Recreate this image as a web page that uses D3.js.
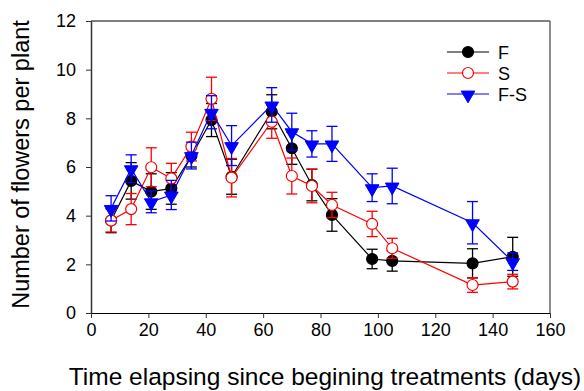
<!DOCTYPE html>
<html>
<head>
<meta charset="utf-8">
<script src="https://cdn.jsdelivr.net/npm/d3@7"></script>
<style>
  body { margin: 0; background: #fff; }
  svg { display: block; font-family: "Liberation Sans", Arial, sans-serif; }
</style>
</head>
<body>
<div id="chart"></div>
<script>
const W = 584, H = 391;

// days since beginning of treatments
const days = [7, 14, 21, 28, 35, 42, 49, 63, 70, 77, 84, 98, 105, 133, 147];

// flowers per plant (mean) and standard error
const fMean  = [3.8, 5.43, 4.99, 5.12, 6.45, 7.93, 5.6, 8.27, 6.77, 5.26, 4.03, 2.22, 2.14, 2.04, 2.31];
const fErr   = [0.5, 0.75, 0.73, 0.65, 0.45, 0.68, 0.72, 0.7, 0.66, 0.65, 0.67, 0.4, 0.42, 0.6, 0.8];
const sMean  = [3.8, 4.27, 5.99, 5.53, 6.84, 8.8, 5.56, 7.86, 5.63, 5.22, 4.44, 3.66, 2.66, 1.15, 1.29];
const sErr   = [0.47, 0.64, 0.8, 0.62, 0.59, 0.89, 0.79, 0.68, 0.74, 0.69, 0.52, 0.52, 0.41, 0.3, 0.3];
const fsMean = [4.3, 5.93, 4.57, 4.85, 6.47, 8.25, 6.88, 8.55, 7.45, 6.95, 6.95, 5.15, 5.22, 3.71, 2.11];
const fsErr  = [0.52, 0.57, 0.45, 0.6, 0.55, 0.68, 0.82, 0.71, 0.76, 0.54, 0.72, 0.57, 0.73, 0.87, 0.36];

const xTicks = [0, 20, 40, 60, 80, 100, 120, 140, 160];
const yTicks = [0, 2, 4, 6, 8, 10, 12];

const series = [
  { name: "F",   mean: fMean,  err: fErr,  color: "#000000", marker: "circle", fill: "#000000" },
  { name: "S",   mean: sMean,  err: sErr,  color: "#ff0000", marker: "circle", fill: "#ffffff" },
  { name: "F-S", mean: fsMean, err: fsErr, color: "#0000ff", marker: "triangle", fill: "#0000ff" }
];

const svg = d3.select("#chart").append("svg")
  .attr("width", W)
  .attr("height", H);

const x = d3.scaleLinear().domain([0, 160]).range([91, 550]);
const y = d3.scaleLinear().domain([0, 12]).range([313, 21]);

// axes
svg.append("g")
  .attr("transform", `translate(0,${y(0)})`)
  .call(d3.axisBottom(x).tickValues(xTicks).tickSize(5).tickPadding(5).tickSizeOuter(0))
  .call(g => g.select(".domain").attr("stroke", "#000").attr("stroke-width", 1.2))
  .call(g => g.selectAll(".tick line").attr("stroke", "#333"))
  .call(g => g.selectAll(".tick text").attr("font-size", 18).attr("font-family", "Liberation Sans, Arial").attr("fill", "#000"));

svg.append("g")
  .attr("transform", `translate(${x(0)},0)`)
  .call(d3.axisLeft(y).tickValues(yTicks).tickSize(5).tickPadding(10).tickSizeOuter(0))
  .call(g => g.select(".domain").attr("stroke", "#333").attr("stroke-width", 1.5))
  .call(g => g.selectAll(".tick line").attr("stroke", "#333"))
  .call(g => g.selectAll(".tick text").attr("font-size", 18).attr("font-family", "Liberation Sans, Arial").attr("fill", "#000"));

// frame top and right
svg.append("line")
  .attr("x1", x(0)).attr("x2", x(160)).attr("y1", y(12)).attr("y2", y(12))
  .attr("stroke", "#000").attr("stroke-width", 1);
svg.append("line")
  .attr("x1", x(160)).attr("x2", x(160)).attr("y1", y(12)).attr("y2", y(0))
  .attr("stroke", "#666").attr("stroke-width", 1.5);

const tri = d3.symbol().type(d3.symbolTriangle).size(80);

const drawMarker = (sel, s, cx, cy) => {
  if (s.marker === "circle") {
    sel.append("circle")
      .attr("cx", cx).attr("cy", cy).attr("r", 5.5)
      .attr("fill", s.fill).attr("stroke", s.color).attr("stroke-width", 1.2);
  } else {
    sel.append("path")
      .attr("d", tri)
      .attr("transform", `translate(${cx},${cy + 1}) rotate(180)`)
      .attr("fill", s.fill).attr("stroke", s.color).attr("stroke-width", 1);
  }
};

series.forEach(s => {
  const g = svg.append("g");
  const pts = days.map((d, i) => ({ d, m: s.mean[i], e: s.err[i] }));

  // error bars
  pts.forEach(p => {
    const cx = x(p.d);
    g.append("line")
      .attr("x1", cx).attr("x2", cx).attr("y1", y(p.m - p.e)).attr("y2", y(p.m + p.e))
      .attr("stroke", s.color).attr("stroke-width", 1.3);
    [p.m - p.e, p.m + p.e].forEach(v => {
      g.append("line")
        .attr("x1", cx - 5.5).attr("x2", cx + 5.5).attr("y1", y(v)).attr("y2", y(v))
        .attr("stroke", s.color).attr("stroke-width", 1.3);
    });
  });

  g.append("path")
    .datum(pts)
    .attr("fill", "none")
    .attr("stroke", s.color)
    .attr("stroke-width", 1.2)
    .attr("d", d3.line().x(p => x(p.d)).y(p => y(p.m)));

  pts.forEach(p => drawMarker(g, s, x(p.d), y(p.m)));
});

// legend
const legendY = [52, 73, 94];
series.forEach((s, i) => {
  const lg = svg.append("g");
  lg.append("line")
    .attr("x1", 447).attr("x2", 489).attr("y1", legendY[i]).attr("y2", legendY[i])
    .attr("stroke", s.color).attr("stroke-width", 1.2);
  drawMarker(lg, s, 468, legendY[i]);
  lg.append("text")
    .attr("x", 498).attr("y", legendY[i] + 6.5)
    .attr("font-size", 18)
    .text(s.name);
});

// axis titles
svg.append("text")
  .attr("x", 325).attr("y", 385)
  .attr("text-anchor", "middle")
  .attr("font-size", 24.5)
  .text("Time elapsing since begining treatments (days)");

svg.append("text")
  .attr("transform", `translate(29,${(19 + 310) / 2}) rotate(-90)`)
  .attr("text-anchor", "middle")
  .attr("font-size", 23.5)
  .text("Number of flowers per plant");
</script>
</body>
</html>
